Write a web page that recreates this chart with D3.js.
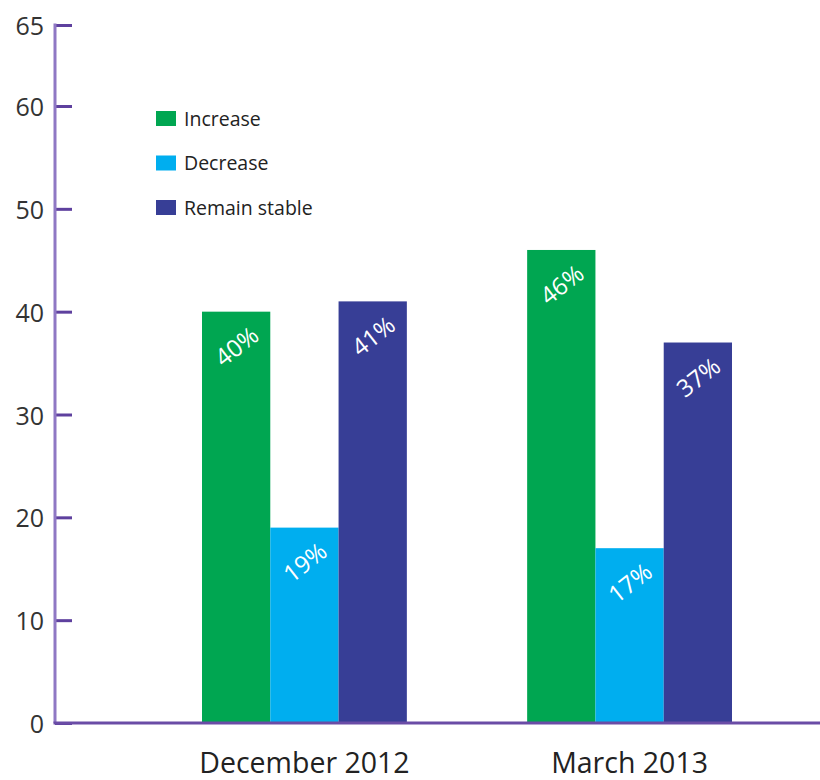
<!DOCTYPE html>
<html>
<head>
<meta charset="utf-8">
<script src="https://cdn.jsdelivr.net/npm/d3@7/dist/d3.min.js"></script>
<style>
  html, body { margin: 0; padding: 0; background: #fff; }
  svg { display: block; font-family: "Open Sans", "Noto Sans", sans-serif; }
</style>
</head>
<body>
<svg id="chart" width="820" height="780"></svg>
<script>
// Survey periods and the three answer groups
const periods = ["December 2012", "March 2013"];
const seriesNames = ["Increase", "Decrease", "Remain stable"];
const increase = [40, 46];
const decrease = [19, 17];
const remainStable = [41, 37];
const yTickValues = [0, 10, 20, 30, 40, 50, 60, 65];

const seriesColors = ["#00a651", "#00aeef", "#373e96"];
const seriesValues = [increase, decrease, remainStable];

const rows = periods.map((p, i) => ({
  period: p,
  values: seriesNames.map((s, k) => ({ series: s, value: seriesValues[k][i], color: seriesColors[k] }))
}));

const svg = d3.select("#chart");
const axisX = 55, baseY = 723;

// y scale: evenly spaced tens, with the 65 cap at the top of the axis
const y = d3.scaleLinear().domain([0, 60, 65]).range([baseY, 106, 25]);

const x0 = d3.scaleBand().domain(periods).range([202, 732]).paddingInner(0.37).paddingOuter(0);
const x1 = d3.scaleBand().domain(seriesNames).range([0, x0.bandwidth()]).padding(0);

// bars
const groups = svg.append("g").selectAll("g").data(rows).join("g")
  .attr("transform", d => `translate(${x0(d.period)},0)`);

groups.selectAll("rect").data(d => d.values).join("rect")
  .attr("x", d => x1(d.series))
  .attr("width", x1.bandwidth())
  .attr("y", d => y(d.value))
  .attr("height", d => baseY - y(d.value))
  .attr("fill", d => d.color);

// rotated value labels inside the bar tops
groups.selectAll("text.val").data(d => d.values).join("text")
  .attr("class", "val")
  .attr("transform", d => `translate(${x1(d.series) + x1.bandwidth() / 2},${y(d.value) + 34}) rotate(-38)`)
  .attr("text-anchor", "middle")
  .attr("dominant-baseline", "central")
  .attr("fill", "#fff")
  .attr("font-size", 24)
  .text(d => d.value + "%");

// y axis
const yAxis = svg.append("g").attr("transform", `translate(${axisX},0)`)
  .call(d3.axisRight(y).tickValues(yTickValues).tickSize(17).tickFormat(""));
yAxis.select(".domain").remove();
yAxis.selectAll(".tick line").attr("stroke", "#5e409e").attr("stroke-width", 3);
svg.append("line")
  .attr("x1", axisX).attr("x2", axisX)
  .attr("y1", y(65) - 1.5).attr("y2", baseY)
  .attr("stroke", "#8f78c4").attr("stroke-width", 3);

svg.append("g").selectAll("text").data(yTickValues).join("text")
  .attr("x", 44)
  .attr("y", d => y(d))
  .attr("text-anchor", "end")
  .attr("dominant-baseline", "central")
  .attr("fill", "#333")
  .attr("font-size", 25)
  .text(d => d);

// x axis baseline
svg.append("line")
  .attr("x1", axisX - 1.5).attr("x2", 820)
  .attr("y1", baseY).attr("y2", baseY)
  .attr("stroke", "#6a4ca6").attr("stroke-width", 3);

const xAxis = svg.append("g").attr("transform", `translate(0,${baseY})`)
  .call(d3.axisBottom(x0).tickSize(0).tickPadding(30));
xAxis.select(".domain").remove();
xAxis.selectAll("text")
  .attr("font-size", 28.5)
  .attr("fill", "#222")
  .attr("font-family", "'Open Sans', sans-serif");

// legend
const legend = svg.append("g").selectAll("g").data(seriesNames).join("g")
  .attr("transform", (d, i) => `translate(156,${118 + i * 44.5})`);
legend.append("rect")
  .attr("x", 0).attr("y", -7).attr("width", 20).attr("height", 15)
  .attr("fill", (d, i) => seriesColors[i]);
legend.append("text")
  .attr("x", 28).attr("y", 0)
  .attr("dominant-baseline", "central")
  .attr("font-size", 19.5)
  .attr("fill", "#222")
  .text(d => d);
</script>
</body>
</html>
